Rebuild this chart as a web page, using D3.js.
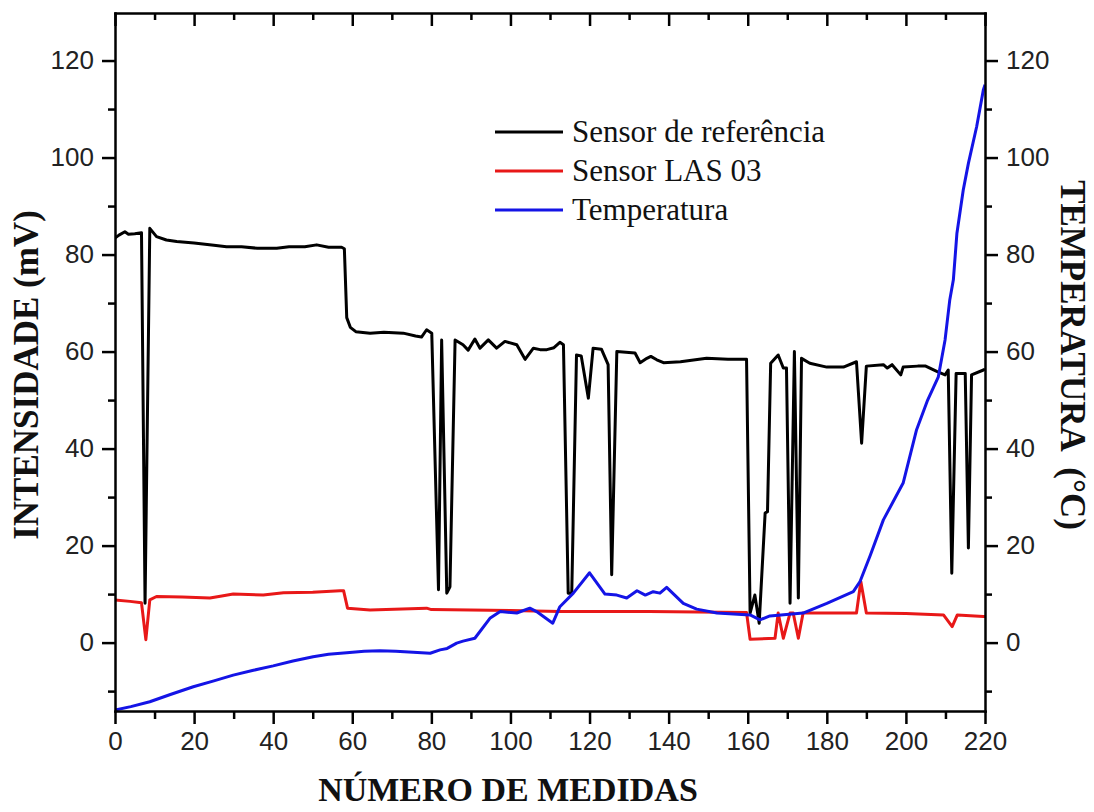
<!DOCTYPE html>
<html>
<head>
<meta charset="utf-8">
<script src="https://cdn.jsdelivr.net/npm/d3@7"></script>
<style>
  body { margin: 0; background: #fff; }
  .tick text { font-family: "Liberation Sans", Arial, sans-serif; font-size: 26px; fill: #222; }
  .axis path, .axis line { stroke: #000; stroke-width: 2.5; }
  .title { font-family: "Liberation Serif", "Times New Roman", serif; font-weight: bold; font-size: 35px; fill: #111; white-space: pre; }
  .legend text { font-family: "Liberation Serif", "Times New Roman", serif; font-size: 31px; fill: #111; }
</style>
</head>
<body>
<svg class="graph"></svg>
<script>
let width = 1094;
let height = 812;

// Sensor de referência (mV)
let refX = [0, 1, 2.5, 3.4, 5, 6.7, 7.6, 8.8, 10.5, 13, 15.6, 20, 25, 28.2, 32, 36, 40.9, 44, 48, 51, 54, 57.3, 58,
  58.6, 59.5, 60.9, 64.5, 68, 72.9, 76, 77.5, 78.8, 80.1, 81.8, 82.6, 83.9, 84.7, 86, 88, 89.3, 91, 92.3, 94.4,
  96.5, 98.6, 101.6, 103.7, 105.8, 107.5, 109.2, 111, 112.5, 113.4, 114.6, 115.5, 116.7, 117.9, 119.7, 120.9, 123,
  124.7, 125.6, 126.9, 131.5, 132.8, 134.5, 135.5, 137, 138.7, 143, 149.6, 155, 159.7, 160.6, 161.8, 162.9, 164.4,
  165, 165.8, 167.7, 169, 169.8, 170.7, 171.8, 172.8, 173.6, 175.7, 180, 184.2, 187.5, 188.8, 190, 194.3, 195.3,
  196.5, 198.7, 199.3, 203, 205, 207.8, 209.9, 210.7, 211.6, 212.7, 215, 215.8, 216.6, 219.6, 220];
let refY = [83.4, 84, 84.7, 84.2, 84.3, 84.5, 8.1, 85.4, 83.7, 83, 82.7, 82.4, 81.9, 81.6, 81.6, 81.3, 81.3, 81.6,
  81.6, 82, 81.5, 81.5, 81.2, 67, 65, 64.1, 63.8, 64, 63.8, 63.2, 63, 64.5, 63.8, 10.9, 62.4, 10.2, 11.5, 62.4,
  61.4, 60.3, 62.6, 60.7, 62.4, 60.7, 62.1, 61.4, 58.4, 60.7, 60.4, 60.4, 60.8, 61.9, 61.4, 10.2, 10.2, 59.3,
  59.1, 50.4, 60.7, 60.5, 57.3, 14, 60, 59.7, 57.7, 58.6, 59, 58.3, 57.7, 57.9, 58.6, 58.4, 58.4, 6.1, 9.8, 4,
  26.7, 27, 57.6, 59.3, 56.6, 56.6, 8.1, 60, 9.2, 58.6, 57.6, 56.8, 56.8, 57.9, 41.1, 57, 57.3, 56.6, 57.3,
  55.2, 56.8, 57, 57, 55.9, 55.2, 56.2, 14.3, 55.5, 55.5, 19.5, 55.2, 56.2, 56.4];

// Sensor LAS 03 (mV)
let lasX = [0, 3.8, 6.7, 7.8, 8.8, 10.5, 17, 24, 27, 29.9, 37.5, 42.6, 50, 56.9, 57.8, 58.8, 64.5, 78.8, 80, 100,
  112.5, 135, 159.7, 160.6, 166.9, 167.7, 169, 170.7, 171.5, 172.8, 174, 187.5, 188.6, 190, 200, 209.5, 211.7,
  213, 219.6, 220];
let lasY = [8.8, 8.5, 8.2, 0.6, 8.8, 9.5, 9.4, 9.2, 9.6, 10, 9.8, 10.3, 10.4, 10.7, 10.7, 7.1, 6.7, 7.1, 6.8, 6.6,
  6.4, 6.4, 6.2, 0.7, 0.9, 6.1, 0.9, 6.1, 6.1, 0.9, 6.1, 6.1, 12.6, 6.1, 6, 5.7, 3.3, 5.7, 5.4, 5.4];

// Temperatura (°C)
let tempX = [0, 4, 8.8, 14, 19.8, 25, 29.9, 35, 40, 45, 50.1, 54, 58.6, 63, 67, 71, 75.4, 79.7, 82.2, 84, 86.4, 88,
  91, 94.8, 97.4, 101.6, 104.9, 106.6, 110.7, 112.5, 115.9, 120, 123.9, 126.9, 129.4, 132, 134.1, 136.1, 137.8,
  139.5, 143.7, 147.1, 152.2, 160.6, 163.1, 165.6, 174, 180, 186.7, 188.4, 191, 194.3, 199.3, 202.7, 205.5, 208.2,
  209.9, 211.1, 212, 212.9, 214.5, 215.8, 217.9, 219.6, 220];
let tempY = [-13.9, -13.2, -12.2, -10.7, -9.1, -7.9, -6.7, -5.7, -4.8, -3.8, -2.9, -2.4, -2.1, -1.8, -1.7, -1.8,
  -2, -2.2, -1.5, -1.2, -0.1, 0.3, 0.9, 5, 6.4, 6.1, 7.1, 6.4, 4, 7.4, 10.2, 14.4, 10, 9.8, 9.2, 10.7, 9.8, 10.5,
  10.2, 11.4, 8.1, 6.9, 6.1, 5.7, 4.7, 5.5, 6.1, 8.1, 10.5, 12.6, 18, 25.3, 32.9, 43.9, 50, 54.8, 62.4, 70.7, 74.8,
  84.4, 93.3, 98.8, 106.4, 114, 115];

let seriesNames = ["Sensor de referência", "Sensor LAS 03", "Temperatura"];
let seriesColors = ["#000000", "#e81818", "#1414e6"];

let xMajor = d3.range(0, 221, 20);
let xMinor = d3.range(10, 220, 20);
let yMajor = d3.range(0, 121, 20);
let yMinor = [-10].concat(d3.range(10, 130, 20));

let plotLeft = 115, plotRight = 985, plotTop = 13, plotBottom = 711;

let graph = d3.select(".graph")
  .attr("width", width)
  .attr("height", height);

let x = d3.scaleLinear().domain([0, 220]).range([plotLeft, plotRight]);
let y = d3.scaleLinear().domain([-14.1, 129.8]).range([plotBottom, plotTop]);
let yTemp = d3.scaleLinear().domain([-14.1, 129.8]).range([plotBottom, plotTop]);

graph.append("clipPath")
  .attr("id", "plot-clip")
  .append("rect")
  .attr("x", plotLeft)
  .attr("y", plotTop)
  .attr("width", plotRight - plotLeft)
  .attr("height", plotBottom - plotTop);

function zip(xs, ys) {
  return xs.map(function(v, i) {
    return [v, ys[i]];
  });
}

let lineRef = d3.line()
  .x(function(d) { return x(d[0]); })
  .y(function(d) { return y(d[1]); });
let lineTemp = d3.line()
  .x(function(d) { return x(d[0]); })
  .y(function(d) { return yTemp(d[1]); });

let lines = graph.append("g").attr("clip-path", "url(#plot-clip)");

lines.append("path")
  .datum(zip(refX, refY))
  .attr("fill", "none")
  .attr("stroke", seriesColors[0])
  .attr("stroke-width", 3)
  .attr("stroke-linejoin", "round")
  .attr("d", lineRef);

lines.append("path")
  .datum(zip(lasX, lasY))
  .attr("fill", "none")
  .attr("stroke", seriesColors[1])
  .attr("stroke-width", 3)
  .attr("stroke-linejoin", "round")
  .attr("d", lineRef);

lines.append("path")
  .datum(zip(tempX, tempY))
  .attr("fill", "none")
  .attr("stroke", seriesColors[2])
  .attr("stroke-width", 3)
  .attr("stroke-linejoin", "round")
  .attr("d", lineTemp);

// axes: major ticks with labels, minor ticks drawn as a second unlabeled axis
function drawAxis(axisFn, scale, transform, major, minor, labels, majorLen, minorLen) {
  let gMinor = graph.append("g")
    .attr("class", "axis")
    .attr("transform", transform)
    .call(axisFn(scale).tickValues(minor).tickSize(minorLen).tickFormat(""));
  gMinor.select(".domain").remove();
  let g = graph.append("g")
    .attr("class", "axis")
    .attr("transform", transform)
    .call(axisFn(scale).tickValues(major).tickSizeInner(majorLen).tickSizeOuter(0).tickPadding(8)
      .tickFormat(labels ? d3.format("d") : ""));
  return g;
}

drawAxis(d3.axisBottom, x, "translate(0," + plotBottom + ")", xMajor, xMinor, true, 13, 8);
drawAxis(d3.axisTop, x, "translate(0," + plotTop + ")", xMajor, xMinor, false, -13, -7);
drawAxis(d3.axisLeft, y, "translate(" + plotLeft + ",0)", yMajor, yMinor, true, 13, 7);
drawAxis(d3.axisRight, yTemp, "translate(" + plotRight + ",0)", yMajor, yMinor, true, 13, 7);

graph.selectAll(".axis .domain").attr("stroke-linecap", "square");

// axis titles
graph.append("text")
  .attr("class", "title")
  .attr("x", 508)
  .attr("y", 801)
  .style("font-size", "34px")
  .attr("text-anchor", "middle")
  .text("NÚMERO DE MEDIDAS");

graph.append("text")
  .attr("class", "title")
  .attr("transform", "translate(38,375) rotate(-90)")
  .attr("text-anchor", "middle")
  .text("INTENSIDADE (mV)");

graph.append("text")
  .attr("class", "title")
  .attr("transform", "translate(1061,355) rotate(90)")
  .attr("text-anchor", "middle")
  .text("TEMPERATURA  (°C)");

// legend
let legend = graph.append("g")
  .attr("class", "legend")
  .selectAll("g")
  .data(seriesNames)
  .enter().append("g")
  .attr("transform", function(d, i) {
    return "translate(495," + (132 + i * 39) + ")";
  });

legend.append("line")
  .attr("x1", 0)
  .attr("x2", 68)
  .attr("stroke", function(d, i) { return seriesColors[i]; })
  .attr("stroke-width", 3);

legend.append("text")
  .attr("x", 77)
  .attr("y", 10)
  .text(function(d) { return d; });
</script>
</body>
</html>
